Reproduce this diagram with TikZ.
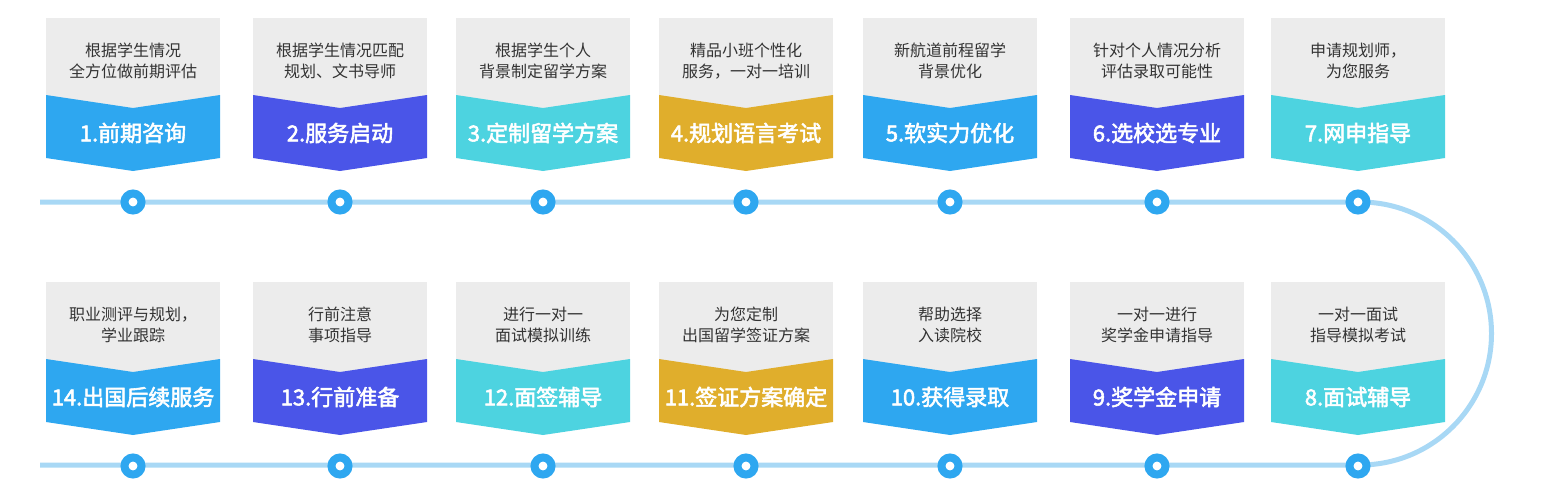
\documentclass[tikz,border=0pt]{standalone}
\usepackage{fontspec}
\setmainfont{Noto Sans CJK SC}
\newfontfamily\cjkb[FakeBold=2.5]{Noto Sans CJK SC}
\definecolor{cA}{HTML}{2EA7F0}
\definecolor{cB}{HTML}{4A55E8}
\definecolor{cC}{HTML}{4DD3E0}
\definecolor{cD}{HTML}{E0AE2C}
\definecolor{gr}{HTML}{ECECEC}
\definecolor{ln}{HTML}{A8D8F5}
\definecolor{tx}{HTML}{333333}
\tikzset{desc/.style={text=tx,font=\fontsize{16}{21}\selectfont,align=center},
 ttl/.style={text=white,font=\cjkb\fontsize{22}{24}\selectfont},
 dot/.style={circle,fill=white,draw=cA,line width=8pt,minimum size=17pt,inner sep=0pt}}
\begin{document}
\begin{tikzpicture}[x=1pt,y=-1pt]
\useasboundingbox (0,0) rectangle (1545,496);
\coordinate (s1) at (40,202);
\coordinate (s2) at (40,465);
\draw[ln,line width=5pt] (s1) -- (1360,202) arc[start angle=-90,end angle=90,radius=131.5] -- (s2);
\foreach \x/\c/\a/\b/\t/\i [count=\n] in {
133/cA/根据学生情况/全方位做前期评估/1.前期咨询/0,
340/cB/根据学生情况匹配/规划、文书导师/2.服务启动/0,
543/cC/根据学生个人/背景制定留学方案/3.定制留学方案/0,
746/cD/精品小班个性化/服务，一对一培训/4.规划语言考试/0,
950/cA/新航道前程留学/背景优化/5.软实力优化/0,
1157/cB/针对个人情况分析/评估录取可能性/6.选校选专业/0,
1358/cC/申请规划师，/为您服务/7.网申指导/0,
133/cA/职业测评与规划，/学业跟踪/14.出国后续服务/264,
340/cB/行前注意/事项指导/13.行前准备/264,
543/cC/进行一对一/面试模拟训练/12.面签辅导/264,
746/cD/为您定制/出国留学签证方案/11.签证方案确定/264,
950/cA/帮助选择/入读院校/10.获得录取/264,
1157/cB/一对一进行/奖学金申请指导/9.奖学金申请/264,
1358/cC/一对一面试/指导模拟考试/8.面试辅导/264}{
\begin{scope}[yshift=-\i pt]
\fill[gr] (\x-87,18) rectangle (\x+87,108);
\fill[\c] (\x-87,95) -- (\x,108) -- (\x+87,95) -- (\x+87,158) -- (\x,171) -- (\x-87,158) -- cycle;
\node[desc] (d\n) at (\x,61) {\a\\\b};
\node[ttl] (t\n) at (\x,133) {\t};
\node[dot] (c\n) at (\x,202) {};
\end{scope}}
\end{tikzpicture}
\end{document}
